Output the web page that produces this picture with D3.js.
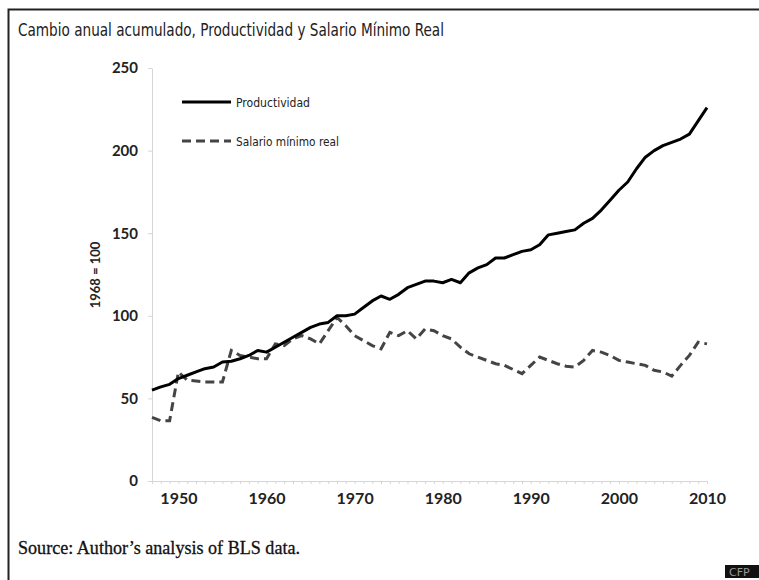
<!DOCTYPE html>
<html lang="es">
<head>
    <meta charset="UTF-8">
    <title>Productividad y Salario Mínimo Real</title>
    <script src="https://d3js.org/d3.v7.min.js"></script>
    <style>
        body { margin: 0; background: #fff; }
        .title { font: 17px "Liberation Sans Narrow", "DejaVu Sans Condensed", sans-serif; fill: #222; }
        .legend { font: 13px "Liberation Sans Narrow", "DejaVu Sans Condensed", sans-serif; fill: #222; }
        .axis text { font: bold 15px Lato, "Open Sans", sans-serif; fill: #222; }
        .axis path, .axis line { stroke: #d6d6d6; }
        .ylabel { font: bold 13px Lato, "Open Sans", sans-serif; fill: #222; }
        .source { font: 18px "Liberation Serif", "DejaVu Serif", serif; fill: #111; stroke: #111; stroke-width: 0.3; }
    </style>
</head>
<body>
<div id="chart"></div>
<script>
    // years 1947 - 2010, index 1968 = 100
    var years = d3.range(1947, 2011);

    var productividad = [
        55, 57, 58.5, 62, 64, 66, 68, 69, 72, 72.5,
        74, 76, 79, 78, 81, 84, 87, 90, 93, 95,
        96, 100, 100, 101, 105, 109, 112, 110, 113, 117,
        119, 121, 121, 120, 122, 120, 126, 129, 131, 135,
        135, 137, 139, 140, 143, 149, 150, 151, 152, 156,
        159, 164, 170, 176, 181, 189, 196, 200, 203, 205,
        207, 210, 218, 226
    ];

    var salarioMinimo = [
        38.5, 36.5, 36.5, 66, 61, 60.5, 60, 60, 60, 79,
        76, 75, 74, 74, 83, 82, 86, 88, 86, 83,
        91, 99, 94, 88, 85, 82, 80, 90, 88, 91,
        86, 92, 91, 88, 86, 81, 77, 75, 73, 71,
        70, 67.5, 65, 70, 75, 73, 71, 69.5, 69, 73,
        79, 78, 76, 73, 72, 71, 70, 67, 66, 63.5,
        70, 76, 84, 83
    ];

    var yTicks = [0, 50, 100, 150, 200, 250];
    var xLabels = [1950, 1960, 1970, 1980, 1990, 2000, 2010];

    var width = 759, height = 580;

    var svg = d3.select("#chart").append("svg")
        .attr("width", width)
        .attr("height", height);

    // frame (only top and left edges fall inside the picture)
    svg.append("rect")
        .attr("x", 8.5).attr("y", 9.5)
        .attr("width", 800).attr("height", 600)
        .attr("fill", "none")
        .attr("stroke", "#222")
        .attr("stroke-width", 2);

    svg.append("text")
        .attr("class", "title")
        .attr("x", 18).attr("y", 36)
        .attr("textLength", 426)
        .attr("lengthAdjust", "spacingAndGlyphs")
        .text("Cambio anual acumulado, Productividad y Salario Mínimo Real");

    var x = d3.scaleLinear().domain([1947, 2010]).range([152, 707]);
    var y = d3.scaleLinear().domain([0, 250]).range([481, 68]);

    svg.append("g")
        .attr("class", "axis")
        .attr("transform", "translate(152,0)")
        .call(d3.axisLeft(y).tickValues(yTicks).tickSize(4).tickPadding(10).tickSizeOuter(0));

    var xAxis = svg.append("g")
        .attr("class", "axis")
        .attr("transform", "translate(0,481)")
        .call(d3.axisBottom(x).tickValues(years).tickSize(3).tickPadding(9).tickSizeOuter(0)
            .tickFormat(function(d){ return xLabels.indexOf(d) >= 0 ? d : ""; }));
    xAxis.selectAll("text").style("font-size", "16px");

    svg.append("text")
        .attr("class", "ylabel")
        .attr("transform", "translate(100,275) rotate(-90)")
        .style("text-anchor", "middle")
        .text("1968 = 100");

    var line = d3.line()
        .x(function(d, i){ return x(years[i]); })
        .y(function(d){ return y(d); });

    svg.append("path")
        .datum(salarioMinimo)
        .attr("d", line)
        .attr("fill", "none")
        .attr("stroke", "#444")
        .attr("stroke-width", 3)
        .attr("stroke-dasharray", "9,5");

    svg.append("path")
        .datum(productividad)
        .attr("d", line)
        .attr("fill", "none")
        .attr("stroke", "#000")
        .attr("stroke-width", 3)
        .attr("stroke-linejoin", "round");

    // legend
    var legend = [
        {name: "Productividad", color: "#000", dash: null, y: 102, len: 74},
        {name: "Salario mínimo real", color: "#444", dash: "9,5", y: 141, len: 103}
    ];
    legend.forEach(function(l){
        svg.append("line")
            .attr("x1", 182).attr("x2", 231)
            .attr("y1", l.y).attr("y2", l.y)
            .attr("stroke", l.color)
            .attr("stroke-width", 3)
            .attr("stroke-dasharray", l.dash);
        svg.append("text")
            .attr("class", "legend")
            .attr("x", 236).attr("y", l.y + 5)
            .attr("textLength", l.len)
            .attr("lengthAdjust", "spacingAndGlyphs")
            .text(l.name);
    });

    svg.append("text")
        .attr("class", "source")
        .attr("x", 18).attr("y", 554)
        .attr("textLength", 282)
        .attr("lengthAdjust", "spacingAndGlyphs")
        .text("Source: Author\u2019s analysis of BLS data.");

    // small badge bottom right
    svg.append("rect")
        .attr("x", 725).attr("y", 565)
        .attr("width", 34).attr("height", 13)
        .attr("fill", "#111");
    svg.append("text")
        .attr("x", 729).attr("y", 576)
        .style("font", "11px 'DejaVu Sans', sans-serif")
        .style("fill", "#999")
        .text("CFP");
</script>
</body>
</html>
